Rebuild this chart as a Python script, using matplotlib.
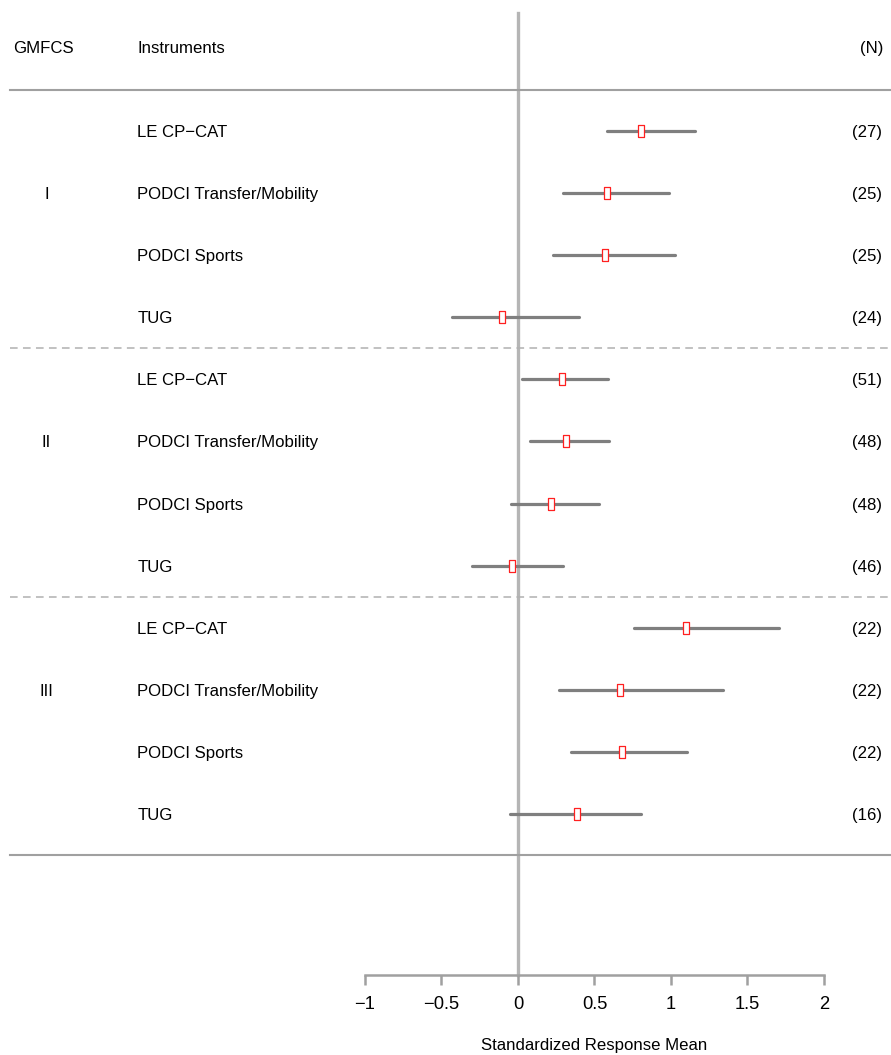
import numpy as np
import matplotlib
matplotlib.use("Agg")
from matplotlib import pyplot as plt

plt.rcParams['font.family'] = ['Liberation Sans', 'DejaVu Sans']

grupos = ["I", "II", "III"]
instrumentos = ["LE CP\u2212CAT", "PODCI Transfer/Mobility", "PODCI Sports", "TUG"]
srm = [0.806, 0.584, 0.566, -0.103,
       0.288, 0.316, 0.216, -0.041,
       1.096, 0.667, 0.678, 0.388]
ic_bajo = [0.58, 0.296, 0.227, -0.433,
           0.028, 0.078, -0.044, -0.303,
           0.758, 0.268, 0.346, -0.052]
ic_alto = [1.157, 0.987, 1.028, 0.399,
           0.586, 0.595, 0.527, 0.296,
           1.706, 1.338, 1.107, 0.806]
n = [27, 25, 25, 24, 51, 48, 48, 46, 22, 22, 22, 16]
ticks = [-1, -0.5, 0, 0.5, 1, 1.5, 2]

gris = "#7f7f7f"
gris_claro = "#b5b5b5"

figura = plt.figure(figsize=(8.91, 10.55), dpi=100)
ax = figura.add_axes([0, 0, 1, 1])
ax.set_xlim(-1 - 365 / 153, 2 + 67 / 153)
ax.set_ylim(14.879, -2.109)

filas = np.arange(len(srm))
eje_y = 13.59

# linea vertical en cero
ax.plot([0, 0], [-1.9, eje_y], color=gris_claro, lw=2.4, zorder=1)

# separadores
tr = ax.get_yaxis_transform()
ax.plot([0.011, 1], [-0.66, -0.66], color="#a0a0a0", lw=1.5, transform=tr)
ax.plot([0.011, 1], [11.66, 11.66], color="#a0a0a0", lw=1.5, transform=tr)
for k in range(1, len(grupos)):
    yy = 4 * k - 0.5
    ax.plot([0.011, 1], [yy, yy], color="#b0b0b0", lw=1.1, ls=(0, (5, 3.5)), transform=tr)

# intervalos y puntos
for i in filas:
    ax.plot([ic_bajo[i], ic_alto[i]], [i, i], color=gris, lw=2.3, solid_capstyle='round', zorder=2)
rect = [(-0.5, -1), (0.5, -1), (0.5, 1), (-0.5, 1), (-0.5, -1)]
ax.plot(srm, filas, ls='none', marker=rect, ms=8, mfc='white', mec='#ff2020', mew=0.9, zorder=3)

# textos
fs = 12.1
ax.text(0.015, -1.35, "GMFCS", transform=tr, fontsize=fs, va='center_baseline')
ax.text(0.154, -1.35, "Instruments", transform=tr, fontsize=fs, va='center_baseline')
ax.text(0.992, -1.35, "(N)", transform=tr, fontsize=fs, va='center_baseline', ha='right')
for g, nombre in enumerate(grupos):
    ax.text(0.052, 4 * g + 1, nombre, transform=tr, fontsize=fs, va='center_baseline', ha='center')
for i in filas:
    ax.text(0.154, i, instrumentos[i % 4], transform=tr, fontsize=fs, va='center_baseline')
    ax.text(0.99, i, "(%d)" % n[i], transform=tr, fontsize=fs, va='center_baseline', ha='right')

# eje x
for s in ['top', 'left', 'right']:
    ax.spines[s].set_visible(False)
ax.spines['bottom'].set_position(('data', eje_y))
ax.spines['bottom'].set_bounds(-1, 2)
ax.spines['bottom'].set_color("#a0a0a0")
ax.spines['bottom'].set_linewidth(1.8)
ax.set_xticks(ticks)
ax.set_xticklabels([("%g" % t).replace("-", "\u2212") for t in ticks])
ax.tick_params(axis='x', direction='out', length=7.5, width=1.8, color="#a0a0a0",
               labelsize=13.2, pad=7.5)
ax.set_yticks([])
ax.set_xlabel("Standardized Response Mean", fontsize=fs, labelpad=18)
ax.xaxis.label.set_x(594.5 / 891)

figura.savefig("out.png", dpi=100)
